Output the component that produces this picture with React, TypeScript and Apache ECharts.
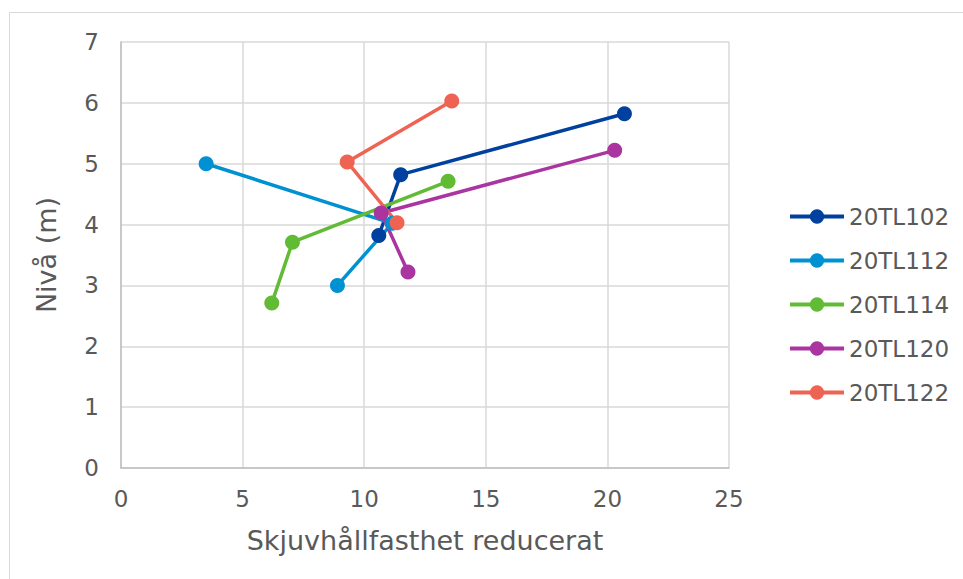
import React, { useEffect, useRef } from "react";
import * as echarts from "echarts";

const seriesNames = ["20TL102", "20TL112", "20TL114", "20TL120", "20TL122"];
const seriesColors = ["#0041A0", "#0091D2", "#62BB35", "#AA35A0", "#EE6352"];
// [Skjuvhållfasthet reducerat, Nivå (m)]
const tl102: [number, number][] = [[20.7, 5.82], [11.5, 4.82], [10.6, 3.82]];
const tl112: [number, number][] = [[3.5, 5.0], [11.15, 4.02], [8.9, 3.0]];
const tl114: [number, number][] = [[13.45, 4.71], [7.05, 3.71], [6.2, 2.71]];
const tl120: [number, number][] = [[20.3, 5.22], [10.7, 4.19], [11.8, 3.22]];
const tl122: [number, number][] = [[13.6, 6.03], [9.3, 5.03], [11.35, 4.03]];
const seriesData = [tl102, tl112, tl114, tl120, tl122];

const xAxisName = "Skjuvhållfasthet reducerat";
const yAxisName = "Nivå (m)";

export default function App() {
  const ref = useRef<HTMLDivElement>(null);
  useEffect(() => {
    if (!ref.current) return;
    const chart = echarts.init(ref.current, null, { renderer: "svg" });
    const font = "DejaVu Sans, Verdana, sans-serif";
    chart.setOption({
      animation: false,
      textStyle: { fontFamily: font },
      graphic: [
        {
          type: "rect",
          shape: { x: 9.5, y: 12.5, width: 1000, height: 700 },
          style: { fill: "none", stroke: "#d9d9d9", lineWidth: 1 },
          silent: true,
        },
      ],
      grid: { left: 121, top: 42, right: 234, bottom: 111, containLabel: false },
      legend: {
        orient: "vertical",
        left: 783,
        top: 200,
        itemWidth: 54,
        itemHeight: 18,
        itemGap: 21,
        itemStyle: { borderWidth: 0 },
        lineStyle: { width: 4 },
        textStyle: { color: "#595959", fontSize: 23, fontFamily: font },
        data: seriesNames,
      },
      xAxis: {
        type: "value",
        min: 0,
        max: 25,
        interval: 5,
        name: xAxisName,
        nameLocation: "middle",
        nameGap: 59,
        nameTextStyle: { color: "#595959", fontSize: 27, fontFamily: font },
        axisLine: { show: true, lineStyle: { color: "#bfbfbf", width: 1.5 } },
        axisTick: { show: false },
        axisLabel: { color: "#595959", fontSize: 23, margin: 19, fontFamily: font },
        splitLine: { show: true, lineStyle: { color: "#d9d9d9", width: 1.5 } },
      },
      yAxis: {
        type: "value",
        min: 0,
        max: 7,
        interval: 1,
        name: yAxisName,
        nameLocation: "middle",
        nameGap: 61,
        nameTextStyle: { color: "#595959", fontSize: 27, fontFamily: font },
        axisLine: { show: true, lineStyle: { color: "#bfbfbf", width: 1.5 } },
        axisTick: { show: false },
        axisLabel: { color: "#595959", fontSize: 23, margin: 22, fontFamily: font },
        splitLine: { show: true, lineStyle: { color: "#d9d9d9", width: 1.5 } },
      },
      series: seriesNames.map((name, i) => ({
        name,
        type: "line",
        data: seriesData[i],
        color: seriesColors[i],
        symbol: "circle",
        symbolSize: 15,
        showSymbol: true,
        lineStyle: { width: 3.5, color: seriesColors[i] },
        itemStyle: { color: seriesColors[i], borderWidth: 0 },
      })),
    });
    return () => chart.dispose();
  }, []);
  return (
    <div
      ref={ref}
      style={{ position: "absolute", left: 0, top: 0, width: 963, height: 579 }}
    />
  );
}
